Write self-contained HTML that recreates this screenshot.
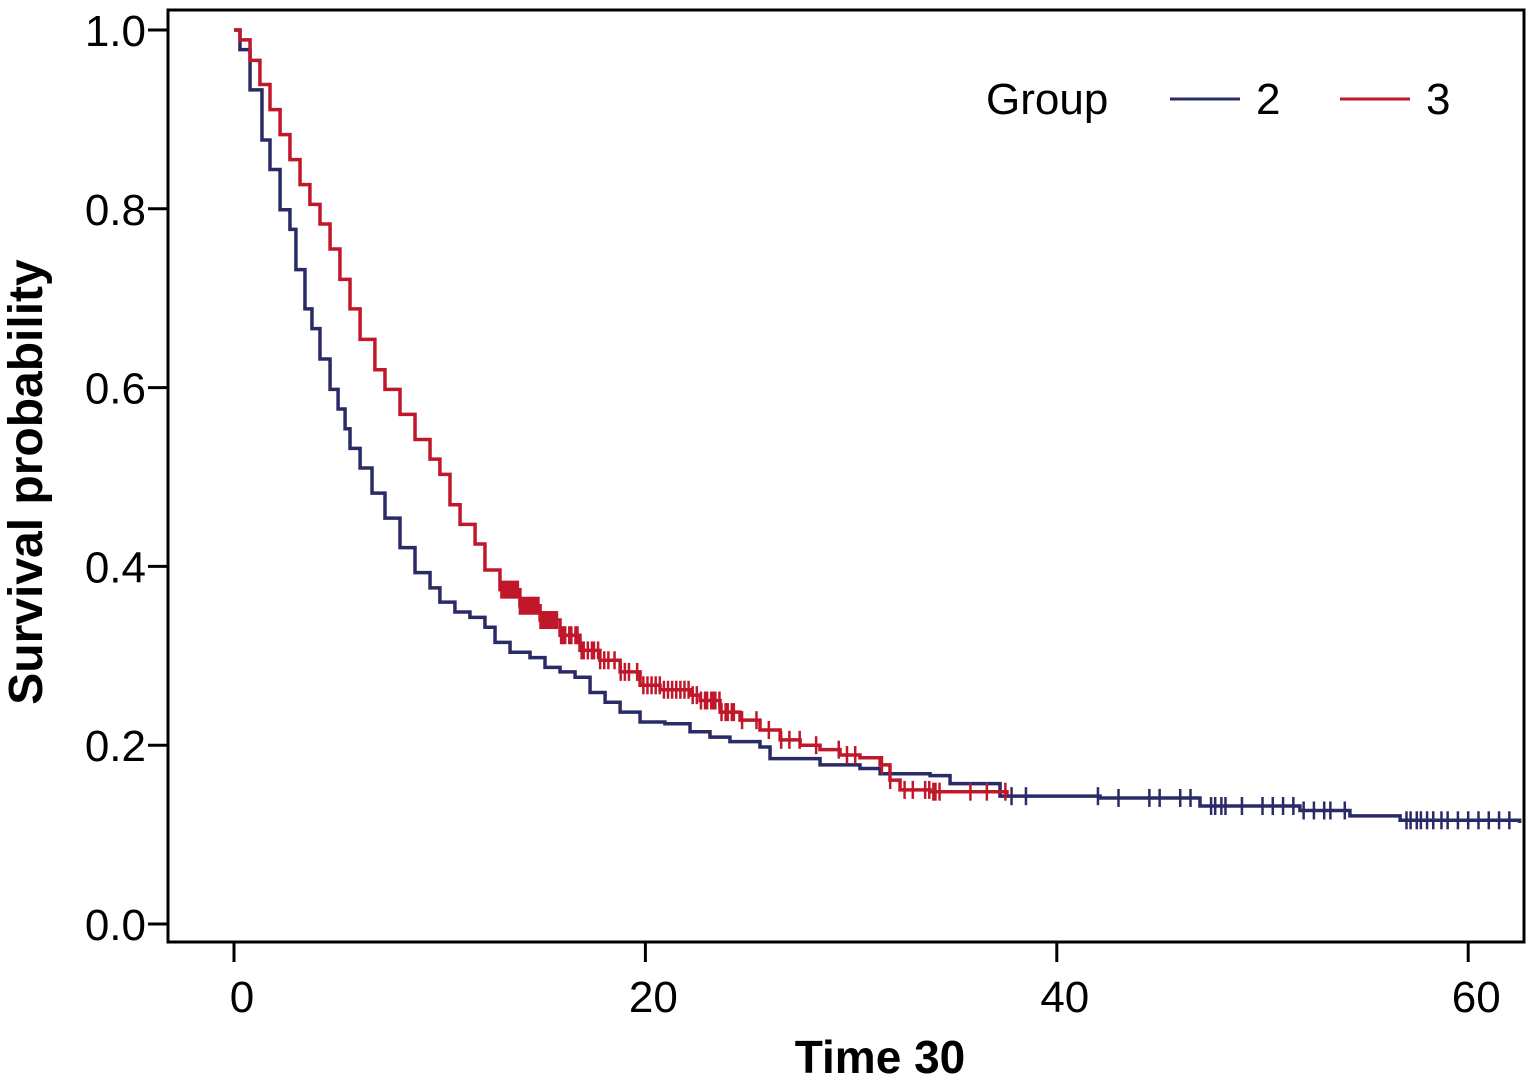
<!DOCTYPE html>
<html><head><meta charset="utf-8"><style>
html,body{margin:0;padding:0;background:#fff}
svg{display:block;font-family:"Liberation Sans",sans-serif}
</style></head><body>
<svg id="chart" width="1526" height="1076">
<rect x="168" y="10" width="1356" height="932" fill="none" stroke="#000" stroke-width="3"/>
<g id="axes"></g>
<g id="series"></g>
<text x="-482" y="42" transform="rotate(-90)" text-anchor="middle" font-size="48" font-weight="bold">Survival probability</text>
<text x="880" y="1073" text-anchor="middle" font-size="46" font-weight="bold">Time 30</text>
<g>
<text x="986" y="114" font-size="44">Group</text>
<line x1="1170" y1="99" x2="1240" y2="99" stroke="#2a2b66" stroke-width="3"/>
<text x="1256" y="114" font-size="44">2</text>
<line x1="1340" y1="99" x2="1410" y2="99" stroke="#c0172a" stroke-width="3"/>
<text x="1426" y="114" font-size="44">3</text>
</g>
</svg>
<script>
const xTicks=[0,20,40,60];
const yTicks=[0.0,0.2,0.4,0.6,0.8,1.0];
const yTickLabels=["0.0","0.2","0.4","0.6","0.8","1.0"];
const blueT=[0,0.29,0.78,1.36,1.75,2.24,2.72,3.01,3.45,3.79,4.18,4.67,5.06,5.40,5.64,6.13,6.71,7.34,8.07,8.80,9.53,10.01,10.74,11.47,12.20,12.69,13.42,14.39,15.12,15.85,16.58,17.31,18.04,18.77,19.74,20.95,22.17,23.14,24.11,25.57,26.06,28.49,30.43,31.41,33.84,34.81,37.24,42.10,46.96,51.82,54.25,56.69,62.5];
const blueS=[1.0,0.978,0.933,0.877,0.844,0.799,0.777,0.732,0.688,0.666,0.632,0.598,0.576,0.554,0.532,0.510,0.482,0.454,0.421,0.393,0.376,0.360,0.349,0.343,0.332,0.315,0.304,0.298,0.287,0.282,0.276,0.259,0.248,0.237,0.226,0.224,0.215,0.209,0.204,0.198,0.185,0.178,0.174,0.168,0.166,0.157,0.143,0.141,0.132,0.127,0.121,0.116,0.113];
const redT=[0,0.29,0.78,1.26,1.75,2.24,2.72,3.21,3.69,4.18,4.67,5.15,5.64,6.13,6.85,7.34,8.07,8.80,9.53,10.01,10.50,10.99,11.72,12.20,12.93,13.90,14.88,15.85,16.82,17.79,18.77,19.74,20.71,22.17,22.66,23.63,24.60,25.57,26.55,27.52,28.49,29.46,30.43,31.41,31.89,32.38,33.84,37.58];
const redS=[1.0,0.989,0.966,0.939,0.911,0.883,0.855,0.827,0.805,0.783,0.755,0.721,0.688,0.654,0.620,0.598,0.570,0.542,0.520,0.503,0.469,0.447,0.425,0.396,0.374,0.356,0.340,0.323,0.306,0.295,0.282,0.267,0.262,0.256,0.250,0.237,0.228,0.217,0.206,0.200,0.195,0.189,0.186,0.178,0.161,0.150,0.148,0.144];
const redCens=[13.0,13.1,13.2,13.3,13.4,13.5,13.6,13.7,13.8,13.9,14.0,14.1,14.2,14.3,14.4,14.5,14.6,14.7,14.8,14.9,15.0,15.1,15.2,15.3,15.4,15.5,15.6,15.7,15.9,16.0,16.1,16.3,16.4,16.6,16.7,16.9,17.0,17.2,17.4,17.5,17.7,17.8,18.0,18.2,18.5,18.8,19.0,19.2,19.6,19.9,20.1,20.3,20.5,20.7,20.9,21.1,21.3,21.5,21.7,21.9,22.1,22.3,22.5,22.7,22.9,23.0,23.2,23.3,23.4,23.6,23.7,23.9,24.0,24.2,24.3,24.7,25.4,26.0,26.6,27.0,27.5,28.3,29.4,29.8,30.2,31.5,31.9,32.6,33.0,33.6,33.8,34.0,34.1,34.3,35.8,36.6,37.5];
const blueCens=[37.8,38.5,42.0,43.0,44.5,45.0,46.0,46.5,47.5,47.7,48.0,48.2,49.0,50.0,50.5,51.0,51.5,52.0,52.5,53.0,53.3,54.0,57.0,57.2,57.5,57.7,58.0,58.3,58.7,59.0,59.5,60.0,60.5,61.0,61.5,62.0];
const X=t=>234+t*20.57, Y=s=>924-s*894;
const NS="http://www.w3.org/2000/svg";
const ax=document.getElementById('axes'), sg=document.getElementById('series');
function mk(tag,attrs,parent){const e=document.createElementNS(NS,tag);for(const k in attrs)e.setAttribute(k,attrs[k]);parent.appendChild(e);return e;}
xTicks.forEach(v=>{
  const l=mk('line',{x1:X(v),x2:X(v),y1:942,y2:962,stroke:'#000','stroke-width':3},ax);
  
  
  const t=mk('text',{x:X(v)+8,y:1012,'text-anchor':'middle','font-size':44},ax);t.textContent=v;
  
  
});
yTicks.forEach((v,i)=>{
  const l=mk('line',{x1:148,x2:168,y1:Y(v),y2:Y(v),stroke:'#000','stroke-width':3},ax);
  
  
  const t=mk('text',{x:146,y:Y(v)+16,'text-anchor':'end','font-size':44},ax);t.textContent=yTickLabels[i];
  
  
});
function stepAt(T,S,t){let s=S[0];for(let i=0;i<T.length;i++){if(T[i]<=t)s=S[i];}return s;}
function draw(T,S,cens,color,name){
  let d='M'+X(T[0])+' '+Y(S[0]);
  for(let i=1;i<T.length;i++){d+=' H'+X(T[i])+' V'+Y(S[i]);}
  const p=mk('path',{d:d,fill:'none',stroke:color,'stroke-width':3.5},sg);
  
  
  cens.forEach(c=>{
    const y=Y(stepAt(T,S,c));
    const m=mk('line',{x1:X(c),x2:X(c),y1:y-9,y2:y+9,stroke:color,'stroke-width':2.5},sg);
    
    
  });
}
draw(blueT,blueS,blueCens,'#2a2b66','group-2');
draw(redT,redS,redCens,'#c0172a','group-3');
</script>
</body></html>
